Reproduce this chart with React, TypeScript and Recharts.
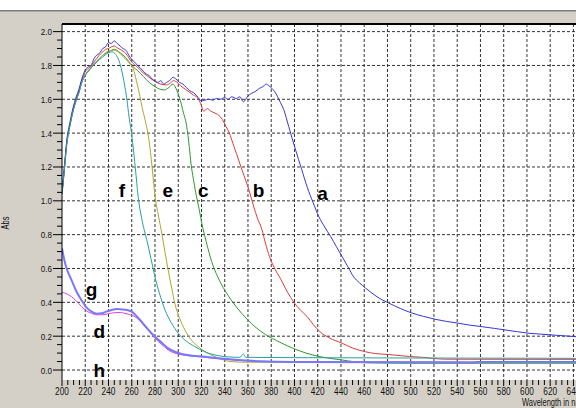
import React from 'react';
import { LineChart, Line, XAxis, YAxis, CartesianGrid, ReferenceLine, ReferenceDot } from 'recharts';

// absorbance spectra, [wavelength nm, Abs]
const SERIES_A: [number, number][] = [
  [200, 1.05], [202, 1.2], [204, 1.35], [207, 1.47], [209.5, 1.55], [212, 1.61], [214.6, 1.66], [217, 1.72],
  [219.8, 1.77], [222, 1.79], [225, 1.8], [227.5, 1.84], [229.7, 1.86], [232, 1.87], [235, 1.9], [237.5, 1.91],
  [240, 1.935], [242.5, 1.93], [245, 1.945], [247.5, 1.93], [250, 1.915], [252.5, 1.9], [255, 1.89], [257.5, 1.86],
  [260, 1.835], [262.5, 1.82], [265, 1.8], [267.5, 1.785], [270, 1.765], [272.5, 1.75], [275, 1.74], [277.5, 1.72],
  [280, 1.71], [282.5, 1.7], [285, 1.71], [287.5, 1.69], [290, 1.7], [292.5, 1.71], [295.5, 1.73], [298, 1.72],
  [301, 1.7], [304, 1.69], [307, 1.67], [310, 1.65], [313, 1.64], [316, 1.62], [320, 1.59], [323, 1.595],
  [326, 1.6], [330, 1.595], [333, 1.605], [336, 1.6], [340, 1.61], [343, 1.6], [346, 1.615], [350, 1.605],
  [353, 1.615], [356, 1.585], [360, 1.62], [363, 1.635], [366, 1.645], [370, 1.665], [373, 1.675], [375.5, 1.69],
  [378, 1.68], [380.5, 1.665], [383, 1.645], [385.5, 1.615], [388, 1.58], [390.7, 1.54], [395, 1.44], [401, 1.3],
  [406, 1.19], [411, 1.08], [416, 0.99], [421, 0.906], [426, 0.845], [431, 0.79], [436, 0.73], [441, 0.67],
  [446, 0.61], [451, 0.55], [456, 0.515], [461, 0.485], [466, 0.458], [471, 0.433], [476, 0.413], [481, 0.396],
  [491, 0.364], [501, 0.337], [511, 0.317], [521, 0.3], [531, 0.287], [541.5, 0.276], [551, 0.265], [561.5, 0.256],
  [572, 0.246], [582, 0.236], [592, 0.226], [602, 0.217], [612, 0.212], [622, 0.207], [632, 0.202], [642.2, 0.197],
];

const SERIES_B: [number, number][] = [
  [200, 1.05], [202, 1.19], [204, 1.34], [207, 1.46], [209.5, 1.54], [212, 1.6], [214.6, 1.65], [217, 1.71],
  [219.8, 1.76], [222, 1.78], [225, 1.795], [227.5, 1.82], [229.7, 1.84], [232, 1.86], [235, 1.88], [237.5, 1.895],
  [240, 1.9], [242.5, 1.91], [245, 1.915], [247.5, 1.905], [250, 1.895], [255, 1.87], [260, 1.82], [265, 1.79],
  [270, 1.755], [275, 1.73], [280, 1.705], [285, 1.69], [290, 1.685], [293, 1.695], [296, 1.71], [299, 1.7],
  [302, 1.68], [306, 1.66], [310, 1.64], [313, 1.625], [316.5, 1.61], [319, 1.58], [322, 1.53], [325, 1.545],
  [328, 1.53], [331, 1.52], [334, 1.51], [338, 1.48], [341, 1.44], [344, 1.4], [347, 1.34], [350, 1.28],
  [355, 1.18], [361, 1.06], [365, 0.965], [368, 0.9], [372, 0.83], [375, 0.75], [378.5, 0.67], [383, 0.6],
  [388, 0.54], [394, 0.46], [399.5, 0.4], [405, 0.355], [411, 0.315], [416, 0.27], [422, 0.226], [430, 0.19],
  [441, 0.158], [450, 0.13], [461, 0.108], [470, 0.097], [480, 0.092], [499, 0.08], [510, 0.075], [530, 0.064],
  [642.2, 0.063],
];

const SERIES_C: [number, number][] = [
  [200, 1.04], [202, 1.18], [204, 1.33], [207, 1.45], [209.5, 1.53], [212, 1.59], [214.6, 1.64], [217, 1.7],
  [219.8, 1.74], [222, 1.76], [225, 1.785], [229.7, 1.82], [235, 1.86], [240, 1.88], [245, 1.895], [250, 1.875],
  [255, 1.845], [260, 1.8], [265, 1.77], [270, 1.735], [275, 1.7], [280, 1.675], [284, 1.66], [288, 1.655],
  [292, 1.67], [295.5, 1.69], [298, 1.665], [301.5, 1.6], [304.5, 1.52], [307.3, 1.44], [309.5, 1.32], [311, 1.22],
  [313, 1.13], [315, 1.05], [318, 0.95], [320.2, 0.87], [324, 0.76], [328.8, 0.64], [334, 0.55], [340.2, 0.47],
  [347, 0.4], [354.6, 0.335], [360, 0.295], [366, 0.256], [375, 0.21], [387.5, 0.164], [400, 0.125], [410, 0.1],
  [422, 0.079], [440, 0.06], [462, 0.043], [500, 0.04], [642.2, 0.04],
];

const SERIES_E: [number, number][] = [
  [200, 1.04], [202, 1.18], [204, 1.33], [207, 1.45], [209.5, 1.53], [212, 1.59], [214.6, 1.64], [217, 1.7],
  [219.8, 1.74], [225, 1.79], [229.7, 1.825], [235, 1.86], [240, 1.885], [245, 1.89], [250, 1.87], [255, 1.835],
  [258.5, 1.81], [261.3, 1.78], [264, 1.71], [267.1, 1.615], [269, 1.55], [271.4, 1.48], [274.8, 1.36], [277.5, 1.2],
  [280, 1.03], [283, 0.91], [285.8, 0.81], [288.5, 0.7], [291.4, 0.59], [294.5, 0.48], [297.2, 0.39], [301, 0.31],
  [305.8, 0.236], [311, 0.18], [317.2, 0.138], [324, 0.105], [331.6, 0.079], [338, 0.062], [344.5, 0.05], [360, 0.046],
  [642.2, 0.045],
];

const SERIES_F: [number, number][] = [
  [200, 1.04], [202, 1.18], [204, 1.33], [207, 1.45], [209.5, 1.53], [212, 1.59], [214.6, 1.64], [217, 1.7],
  [219.8, 1.74], [225, 1.785], [229.7, 1.82], [235, 1.85], [240, 1.875], [243, 1.88], [245.6, 1.87], [248, 1.845],
  [249.9, 1.81], [252, 1.75], [254.2, 1.67], [256, 1.59], [257.6, 1.5], [259.4, 1.42], [261, 1.33], [263, 1.2],
  [265.6, 1.02], [269, 0.88], [272.9, 0.77], [276.5, 0.66], [280, 0.55], [284, 0.45], [288.6, 0.355], [294, 0.28],
  [300, 0.217], [307, 0.17], [314.4, 0.138], [322, 0.11], [331.6, 0.089], [342, 0.078], [353, 0.075], [356, 0.095],
  [358, 0.075], [400, 0.073], [500, 0.071], [642.2, 0.069],
];

const SERIES_G: [number, number][] = [
  [200, 0.72], [202, 0.65], [204, 0.6], [206, 0.565], [208.3, 0.53], [212, 0.47], [217, 0.41], [221, 0.37],
  [225.5, 0.345], [230, 0.333], [234.2, 0.335], [238, 0.345], [242.8, 0.355], [247, 0.36], [251.4, 0.358], [256, 0.355],
  [260, 0.345], [264, 0.32], [268.6, 0.285], [274, 0.24], [280, 0.197], [286, 0.16], [291.4, 0.128], [297, 0.108],
  [303, 0.095], [312, 0.085], [323, 0.079], [337, 0.068], [351.7, 0.059], [370, 0.052], [400, 0.048], [555, 0.045],
  [557, 0.048], [642.2, 0.047],
];

const SERIES_D: [number, number][] = [
  [200, 0.46], [204, 0.45], [208.3, 0.433], [212, 0.41], [217, 0.374], [221, 0.35], [225.5, 0.335], [230, 0.326],
  [234.2, 0.326], [240, 0.333], [245.6, 0.339], [250, 0.34], [254.2, 0.335], [258, 0.328], [262.8, 0.315], [267, 0.29],
  [271.4, 0.256], [276, 0.22], [280, 0.187], [286, 0.15], [291.4, 0.118], [297, 0.1], [303, 0.09], [312, 0.082],
  [323, 0.075], [337, 0.065], [351.4, 0.057], [380, 0.05], [642.2, 0.046],
];

// curve letters (text baseline in data coords)
const LETTERS = ['a', 'b', 'c', 'd', 'e', 'f', 'g', 'h'];
const LETTER_NM = [424.1, 369, 321.5, 232, 291, 251.6, 225.5, 232];
const LETTER_ABS = [1.005, 1.024, 1.024, 0.192, 1.024, 1.024, 0.437, -0.043];

const X_LABELS = [200, 220, 240, 260, 280, 300, 320, 340, 360, 380, 400, 420, 440, 460, 480, 500, 520, 540, 560, 580, 600, 620, 640];
const Y_LABELS = [0, 0.2, 0.4, 0.6, 0.8, 1.0, 1.2, 1.4, 1.6, 1.8, 2.0];
const X_GRID = X_LABELS.slice(1);

const X_DOMAIN: [number, number] = [200, 642.2];
const Y_DOMAIN: [number, number] = [-0.059, 2.045];

const X_TICKS = Array.from({ length: 89 }, (_, i) => 200 + i * 5);
const Y_TICKS = Array.from({ length: 41 }, (_, i) => Math.round(i * 5) / 100);

const toRows = (s: [number, number][]) => s.map(([w, v]) => ({ w, v }));

const FONT = '"Liberation Sans", Arial, sans-serif';

const XTick = (props: any) => {
  const { x, y, payload } = props;
  const v = payload.value;
  const top = y - 7;
  const major = X_LABELS.includes(v);
  return (
    <g>
      <line x1={x} x2={x} y1={top} y2={top + (major ? 6 : 5)} stroke="#000" />
      {major && (
        <text transform={`translate(${x},${top + 14.5}) scale(0.72,1)`} textAnchor="middle" fontSize={11.5} fontFamily={FONT} fill="#111">
          {v}
        </text>
      )}
    </g>
  );
};

const YTick = (props: any) => {
  const { x, y, payload } = props;
  const axisX = x + 11;
  const v = payload.value;
  const major = Y_LABELS.some((t) => Math.abs(t - v) < 1e-6);
  return (
    <g>
      <line x1={axisX - (major ? 9 : 5)} x2={axisX} y1={y} y2={y} stroke="#000" />
      {major && (
        <text transform={`translate(${axisX - 10},${y + 3.5}) scale(0.85,1)`} textAnchor="end" fontSize={9.5} fontFamily={FONT} fill="#111">
          {v.toFixed(1)}
        </text>
      )}
    </g>
  );
};

const AbsLabel = (props: any) => {
  const { viewBox } = props;
  return (
    <text transform={`translate(${viewBox.x + 8.5},${viewBox.y + viewBox.height / 2 + 21}) rotate(-90) scale(0.75,1)`} textAnchor="middle" fontSize={10} fontFamily={FONT} fill="#111">
      Abs
    </text>
  );
};

const WaveLabel = (props: any) => {
  const { viewBox } = props;
  return (
    <text transform={`translate(${viewBox.x + viewBox.width - 54},${viewBox.y + 26}) scale(0.75,1)`} fontSize={10} fontFamily={FONT} fill="#111">
      Wavelength in nm
    </text>
  );
};

const SERIES = [
  { key: 'c', data: SERIES_C, color: '#2c9a2c', width: 1 },
  { key: 'e', data: SERIES_E, color: '#a8a830', width: 1 },
  { key: 'b', data: SERIES_B, color: '#e03a3a', width: 1 },
  { key: 'a', data: SERIES_A, color: '#3636d8', width: 1 },
  { key: 'f', data: SERIES_F, color: '#28a0a0', width: 1 },
  { key: 'd', data: SERIES_D, color: '#e040e0', width: 1 },
  { key: 'g', data: SERIES_G, color: '#7878ff', width: 2 },
];

export default function App() {
  return (
    <div
      style={{
        position: 'fixed',
        left: 0,
        top: 0,
        width: 576,
        height: 408,
        overflow: 'hidden',
        background: 'linear-gradient(to bottom, #ffffff 0px, #ffffff 10px, #7a7a7a 10px, #7a7a7a 11px, #a8a8a8 11px, #a8a8a8 12px, #d4d0c8 12px)',
      }}
    >
      <LineChart width={576} height={408} margin={{ top: 24, right: 0, bottom: 0, left: 0 }}>
        <CartesianGrid
          fill="#ffffff"
          stroke="#333"
          strokeDasharray="3 2"
          horizontalValues={Y_LABELS}
          verticalValues={X_GRID}
        />
        <XAxis
          type="number"
          dataKey="w"
          domain={X_DOMAIN}
          allowDataOverflow
          ticks={X_TICKS}
          interval={0}
          height={28}
          tickSize={6}
          tickMargin={1}
          axisLine={false}
          tickLine={false}
          tick={<XTick />}
          label={(p: any) => <WaveLabel {...p} />}
        />
        <YAxis
          type="number"
          domain={Y_DOMAIN}
          allowDataOverflow
          ticks={Y_TICKS}
          interval={0}
          width={62}
          tickSize={9}
          tickMargin={2}
          axisLine={{ stroke: '#000' }}
          tickLine={false}
          tick={<YTick />}
          label={(p: any) => <AbsLabel {...p} />}
        />
        <ReferenceLine y={Y_DOMAIN[1]} stroke="#000" strokeWidth={2} />
        {SERIES.map((s) => (
          <Line
            key={s.key}
            data={toRows(s.data)}
            dataKey="v"
            type="monotone"
            stroke={s.color}
            strokeWidth={s.width}
            dot={false}
            activeDot={false}
            isAnimationActive={false}
          />
        ))}
        {LETTERS.map((t, i) => (
          <ReferenceDot
            key={t}
            x={LETTER_NM[i]}
            y={LETTER_ABS[i]}
            r={0}
            ifOverflow="visible"
            shape={(p: any) => (
              <text x={p.cx} y={p.cy} textAnchor="middle" fontSize={19} fontWeight="bold" fontFamily={FONT} fill="#000">
                {t}
              </text>
            )}
          />
        ))}
      </LineChart>
    </div>
  );
}
